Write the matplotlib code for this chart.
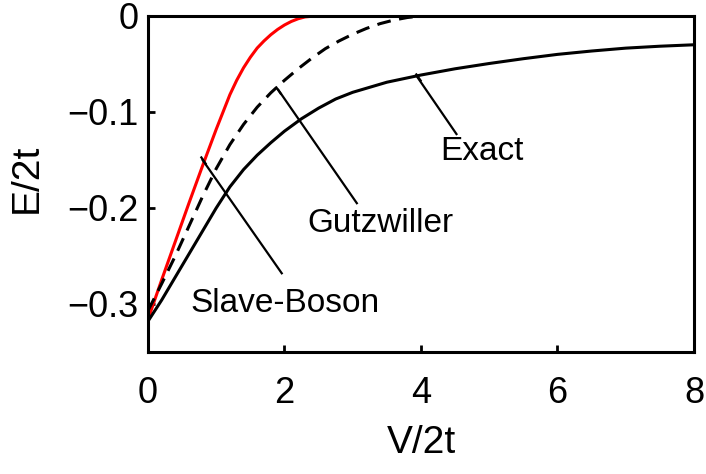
import matplotlib
matplotlib.use("Agg")
from matplotlib import pyplot as plt

# values
exact_v = [0, 0.2, 0.4, 0.6, 0.8, 1.0, 1.2, 1.4, 1.6, 1.8, 2.0, 2.25, 2.5, 2.75, 3.0,
           3.5, 4.0, 4.5, 5.0, 5.5, 6.0, 6.5, 7.0, 7.5, 8.0]
exact_e = [-0.318, -0.296, -0.272, -0.248, -0.224, -0.200, -0.178, -0.160, -0.145, -0.132,
           -0.120, -0.107, -0.096, -0.0865, -0.0795, -0.069, -0.0615, -0.055, -0.0495,
           -0.0445, -0.040, -0.0365, -0.0335, -0.0315, -0.030]

gutz_v = [0, 0.2, 0.4, 0.6, 0.8, 1.0, 1.2, 1.4, 1.6, 1.8, 2.0, 2.2, 2.4, 2.6, 2.8, 3.0,
          3.2, 3.4, 3.6, 3.8, 4.0, 8.0]
gutz_e = [-0.307, -0.279, -0.250, -0.219, -0.188, -0.159, -0.134, -0.113, -0.095, -0.080,
          -0.067, -0.055, -0.044, -0.034, -0.026, -0.019, -0.013, -0.008, -0.0043,
          -0.0016, 0, 0]

slave_v = [0, 0.2, 0.4, 0.6, 0.8, 0.9, 1.0, 1.1, 1.2, 1.3, 1.4, 1.5, 1.6, 1.7, 1.8,
           1.9, 2.0, 2.1, 2.2, 2.3, 2.45, 8.0]
slave_e = [-0.316, -0.275, -0.235, -0.195, -0.156, -0.137, -0.118, -0.100, -0.082, -0.067,
           -0.054, -0.043, -0.0334, -0.026, -0.0195, -0.014, -0.0094, -0.0057, -0.0029,
           -0.001, 0, 0]

# callouts: label, curve point, line end, text position
callouts = [
    ("Exact", (3.95, -0.064), (4.52, -0.123), (4.9, -0.141)),
    ("Gutzwiller", (1.91, -0.077), (3.06, -0.195), (3.41, -0.216)),
    ("Slave-Boson", (0.80, -0.150), (1.96, -0.268), (2.01, -0.299)),
]

x_ticks = [0, 2, 4, 6, 8]
y_ticks = [0, -0.1, -0.2, -0.3]
y_tick_labels = ["0", "\u22120.1", "\u22120.2", "\u22120.3"]

plt.rcParams["font.family"] = ["Liberation Sans", "DejaVu Sans"]

fig = plt.figure(figsize=(7.06, 4.74), dpi=100)
ax = fig.add_axes([0.2096, 0.2574, 0.7734, 0.7089])

ax.plot(slave_v, slave_e, color="#ff0000", lw=2.2, zorder=3)
ax.plot(gutz_v, gutz_e, color="black", lw=2.2, dashes=(4.5, 2.8), zorder=3)
ax.plot(exact_v, exact_e, color="black", lw=2.2, zorder=3)

for label, p0, p1, pt in callouts:
    ax.plot([p0[0], p1[0]], [p0[1], p1[1]], color="black", lw=1.6, zorder=4)
    # small cross bar at the curve end of the leader
    ax.plot([p0[0]], [p0[1]], marker=(2, 0, 35), ms=7, mew=1.6, color="black", zorder=4)
    ax.text(pt[0], pt[1], label, fontsize=24, ha="center", va="center")

ax.set_xlim(0, 8)
ax.set_ylim(-0.35, 0)
ax.set_xticks(x_ticks)
ax.set_xticklabels([str(t) for t in x_ticks])
ax.set_yticks(y_ticks)
ax.set_yticklabels(y_tick_labels)
ax.tick_params(direction="in", length=5, width=2, labelsize=26)
ax.tick_params(axis="x", pad=17)
ax.tick_params(axis="y", pad=7)
for s in ax.spines.values():
    s.set_linewidth(2.2)
    s.set_zorder(5)

ax.set_xlabel("V/2t", fontsize=28)
ax.set_ylabel("E/2t", fontsize=28)
ax.xaxis.set_label_coords(0.5, -0.217)
ax.yaxis.set_label_coords(-0.189, 0.518)

fig.savefig("out.png", dpi=100)
